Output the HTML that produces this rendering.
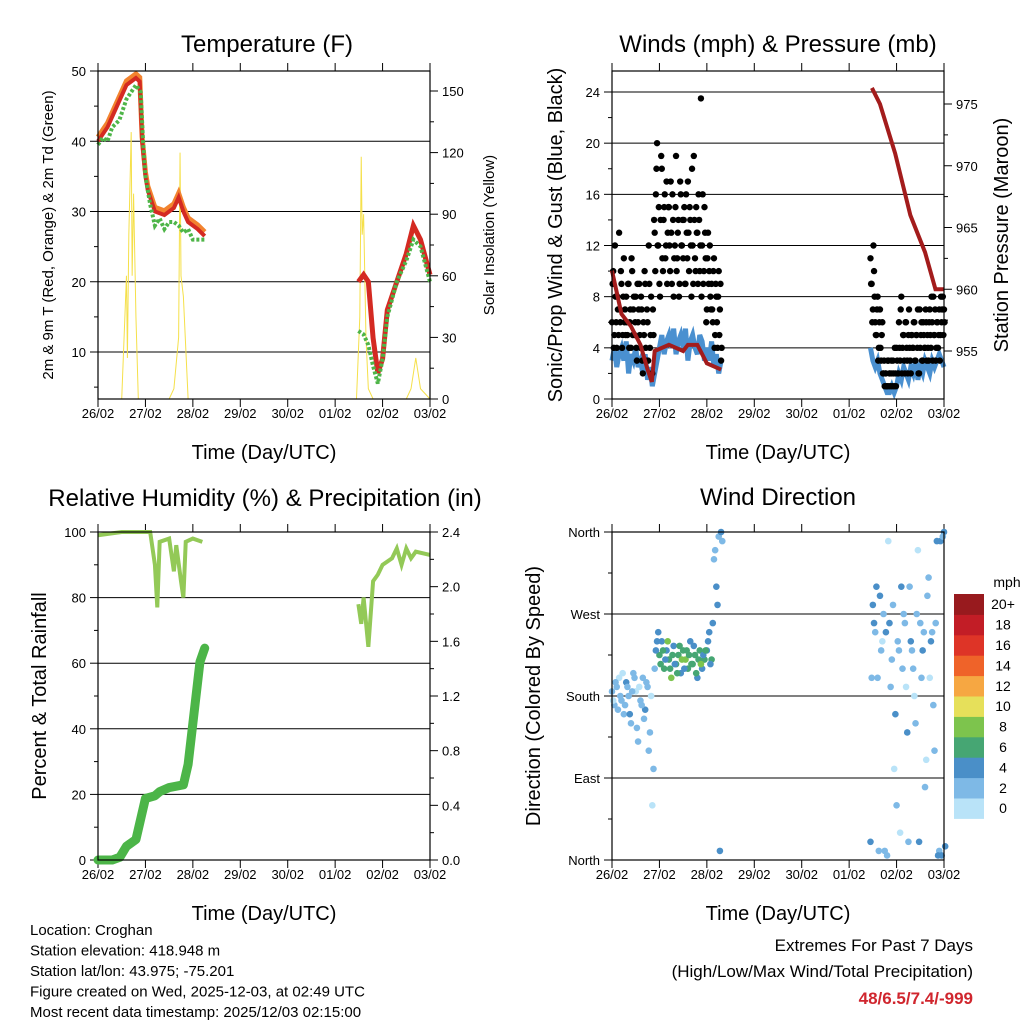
<!DOCTYPE html>
<html><head><meta charset="utf-8"><style>
html,body{margin:0;padding:0;background:#fff}
svg{display:block;font-family:"Liberation Sans",Arial,sans-serif}
</style></head><body>
<svg id="c" width="1024" height="1024" viewBox="0 0 1024 1024"></svg>
<script>
// ---------- DATA ----------
const dayLabels = ["26/02","27/02","28/02","29/02","30/02","01/02","02/02","03/02"];
// Temperature (F)
const tempT1 = [0,0.2,0.4,0.6,0.8,0.88,0.93,1.0,1.05,1.2,1.4,1.6,1.7,1.8,1.9,2.1,2.25];
const tempV1 = [40,42,45,48,49,48.5,40,35,33,30,29.5,30.5,32,30,28.5,27.5,26.5];
const tempT2 = [5.49,5.6,5.7,5.8,5.9,6.0,6.1,6.3,6.5,6.65,6.8,7.0];
const tempV2 = [20,21,20,12,7,9,16,20,24,28,26,21];
const dewT1 = [0,0.1,0.2,0.3,0.45,0.6,0.8,0.9,0.95,1.0,1.1,1.2,1.3,1.4,1.5,1.6,1.7,1.8,1.9,2.0,2.25];
const dewV1 = [39.5,40.5,40,42,43,46,48,47,40,35,31,28,29,27.5,28.5,28.5,28,27,27.5,26,26];
const dewT2 = [5.49,5.6,5.7,5.8,5.9,6.0,6.1,6.3,6.5,6.65,6.8,7.0];
const dewV2 = [13,12.5,11,8,5.5,9,15,20,23,26,25,20];
const solT = [0,0.5,0.55,0.6,0.62,0.65,0.7,0.72,0.75,0.8,0.85,1.0,1.5,1.6,1.7,1.73,1.75,1.8,1.9,2.3];
const solV = [0,0,30,60,20,80,130,60,100,40,0,0,0,5,30,120,60,50,0,0];
const solT2 = [5.45,5.52,5.55,5.57,5.6,5.65,5.7,5.8,6.5,6.6,6.7,6.8,7.0];
const solV2 = [0,40,118,80,90,30,5,0,0,5,20,5,0];
// Winds
const gust1 = [6,10,5,8,4,7,13,6,9,5,11,7, 8,5,9,6,4,10,7,5,8,3,6,9, 4,7,2,5,9,3,6,12,4,8,2,5,
  13,16,20,12,9,14,18,10,15,11,17,13, 15,10,13,16,8,12,19,11,14,9,16,12, 11,15,9,13,17,10,14,8,12,19,11,15,
  13,16,10,23.5,12,9,15,11,7,13,10,8, 9,6,11,5,8,4,10,7,3];
const gust1b = [9,4,12,6,8,5,7,10,4,8,6,5, 6,9,4,7,11,5,8,6,4,9,7,5, 8,3,6,10,4,7,3,9,5,2,7,14,
  10,18,12,15,8,19,11,14,16,12,9,15, 12,17,9,14,11,15,10,13,8,17,12,14, 14,9,16,11,13,15,12,18,9,14,10,13,
  9,14,12,8,16,10,13,6,11,9,12,7, 7,10,4,9,6,8,5,9,4];
const gust2 = [11,9,7,10,6,5,8,4,7,3,6,2, 1,2,1,3,2,1,2,3,1,2,4,2, 6,3,8,4,5,2,6,3,5,4,2,5,
  4,6,3,5,7,2,4,6,3,5,4,6, 5,3,7,4,6,8,5,3,6,4,7,5, 6,8,7];
const gust2b = [9,6,12,8,5,7,3,6,4,5,2,3, 2,1,3,1,2,3,1,2,4,1,3,2, 4,7,2,5,3,6,4,2,7,3,5,4,
  6,3,5,4,2,7,5,3,6,4,7,3, 4,6,5,8,3,5,7,4,6,5,3,8, 7,5,6];
const sonic1 = [3,4,2.5,3.5,4,3,4.5,2,3.5,3,4,2.5,3,2,3.5,1.5,2.5,1,2,3,
  4,5,3.5,4.5,5,4,5.5,3.5,4.5,5,4,5.5,3,4.5,5,4,3.5,5,4.5,3, 4,3,4.5,2.5,3.5,2,3];
const sonic2 = [4,3,2.5,3,2,1.5,1,0.5,0.5,1,0.5,1,2,1.5,2.5,2,1.5,2.5,2,3,1.5,2.5,2,3,2.5,2,3,2.5,3,3.5,3,2.5];
const presT1 = [0,0.2,0.4,0.6,0.75,0.84,0.9,1.2,1.5,1.6,1.8,2.0,2.3];
const presV1 = [961.5,958,957,955.5,953.5,952.5,955,955.5,955,955.5,955.5,954,953.5];
const presT2 = [5.48,5.65,5.97,6.29,6.6,6.82,7.0];
const presV2 = [976.3,975,971,966,963,960,960];
// RH & precip
const rhT1 = [0,0.5,1.0,1.1,1.2,1.25,1.3,1.5,1.6,1.65,1.75,1.8,1.85,2.0,2.2];
const rhV1 = [99,100,100,100,90,77,97,98,88,96,85,80,97,98,97];
const rhT2 = [5.49,5.55,5.6,5.7,5.8,5.9,6.0,6.2,6.3,6.4,6.5,6.6,6.7,7.0];
const rhV2 = [78,72,80,65,85,87,90,92,95,90,95,92,94,93];
const prT = [0,0.3,0.46,0.6,0.8,0.9,1.0,1.2,1.3,1.5,1.8,1.9,2.0,2.1,2.15,2.25];
const prV = [0,0,0.02,0.1,0.15,0.3,0.45,0.47,0.5,0.53,0.55,0.7,1.0,1.3,1.45,1.55];
// Wind direction
const dir1 = [185,170,190,200,175,160,195,180,150,205,185,130,175,200,165,190,140,60,210,240,
  225,240,210,230,220,200,235,215,225,205,230,220,210,240,215,225,200,230,210,220, 230,250,220,330,300,355,360];
const spd1 = [1,2,1,0,2,1,3,2,1,2,0,1,2,1,3,2,1,0,2,3, 5,4,6,3,5,7,4,6,5,3,6,7,5,4,6,5,4,6,3,5, 4,3,5,2,3,2,4];
const dir1b = [175,195,165,180,205,170,190,160,185,200,145,190,170,155,195,120,180,100,230,250,
  215,230,220,240,210,225,215,205,235,220,210,230,225,215,235,205,220,215,225,230, 240,215,260,340,280,10,350];
const spd1b = [0,1,2,1,0,2,1,3,1,2,1,0,2,1,2,1,0,1,3,4, 6,5,4,7,5,6,4,5,6,7,4,5,6,5,4,6,5,7,4,5, 3,4,3,2,3,3,2];
const dir2 = [20,280,250,200,290,240,10,5,260,220,100,60,230,300,270,190,20,240,210,150,340,260,230,80,290,200,250,120,350,10,5,360];
const spd2 = [4,3,2,1,3,0,1,2,3,1,0,1,2,3,1,0,2,4,2,1,0,2,3,1,2,0,2,1,3,2,4,3];
const dir2b = [200,260,300,10,230,270,250,350,190,280,160,240,30,210,260,140,300,230,180,270,20,200,250,110,310,240,170,260,5,350,355,15];
const spd2b = [2,4,3,1,2,1,3,0,2,1,3,2,0,1,2,3,1,2,0,1,3,2,1,0,2,3,1,2,4,3,2,3];
const cbLabels = ["0","2","4","6","8","10","12","14","16","18","20+"];
const cbColors = ["#b9e3f8","#7eb9e6","#4a8fc8","#46a673","#7dc44d","#e6e05a","#f6a742","#ef6329","#de3427","#c21d26","#981a1e"];

// ---------- HELPERS ----------
const NS="http://www.w3.org/2000/svg";
const svg=document.getElementById('c');
function el(tag,attrs,parent){const e=document.createElementNS(NS,tag);for(const k in attrs)e.setAttribute(k,attrs[k]);(parent||svg).appendChild(e);return e;}
function txt(s,x,y,size,anchor,parent,extra){const t=el('text',Object.assign({x:x,y:y,'font-size':size,'text-anchor':anchor||'middle',fill:'#000'},extra||{}),parent);t.textContent=s;return t;}
function lin(d0,d1,p0,p1){return v=>p0+(v-d0)/(d1-d0)*(p1-p0);}

function panel(name,L,T,R,B,yTicks,ySc,yLabels,minorY){
  const g=el('g',{});
  
  
  const xs=lin(0,7,L,R);
  yTicks.forEach(v=>{const y=ySc(v);el('line',{x1:L,x2:R,y1:y,y2:y,stroke:'#000','stroke-width':1},g);});
  yTicks.forEach((v,i)=>{const y=ySc(v);el('line',{x1:L-8,x2:L,y1:y,y2:y,stroke:'#000'},g);
    const t=txt(yLabels[i],L-12,y+5,13,'end',g);});
  (minorY||[]).forEach(v=>{const y=ySc(v);el('line',{x1:L-4,x2:L,y1:y,y2:y,stroke:'#000'},g);});
  dayLabels.forEach((s,i)=>{const x=xs(i);
    el('line',{x1:x,x2:x,y1:B,y2:B+8,stroke:'#000'},g);
    el('line',{x1:x,x2:x,y1:T-8,y2:T,stroke:'#000'},g);
    const t=txt(s,x,B+19,13,'middle',g);});
  const xt=txt('Time (Day/UTC)',(L+R)/2,B+60,20,'middle',g);
  
  
  return {g,xs};
}
function frame(g,L,T,R,B){el('rect',{x:L,y:T,width:R-L,height:B-T,fill:'none',stroke:'#000','stroke-width':1.2},g);}
function poly(g,xs,ys,T,V,attrs,name){const p=el('polyline',Object.assign({fill:'none',points:T.map((t,i)=>xs(t)+','+ys(V[i])).join(' ')},attrs),g);
  return p;}
function rightAxis(g,R,ticks,sc,labels,minor){
  ticks.forEach((v,i)=>{const y=sc(v);el('line',{x1:R,x2:R+8,y1:y,y2:y,stroke:'#000'},g);
    const t=txt(labels[i],R+12,y+5,13,'start',g);});
  (minor||[]).forEach(v=>{const y=sc(v);el('line',{x1:R,x2:R+4,y1:y,y2:y,stroke:'#000'},g);});
}
function vtitle(g,s,x,y,size,name){const t=txt(s,x,y,size,'middle',g,{transform:'rotate(-90 '+x+' '+y+')'});}

// ---------- PANEL 1: Temperature ----------
(function(){
  const L=98,T=71,R=430,B=399;
  const ys=lin(10,50,352,71);
  const {g,xs}=panel('temperature-panel',L,T,R,B,[10,20,30,40,50],ys,["10","20","30","40","50"],[5,15,25,35,45]);
  const ss=lin(0,150,399,91);
  poly(g,xs,ss,solT,solV,{stroke:'#f5e04a','stroke-width':1},'solar-insolation-line');
  poly(g,xs,ss,solT2,solV2,{stroke:'#f5e04a','stroke-width':1},'solar-insolation-line-2');
  poly(g,xs,ys,tempT1,tempV1.map(v=>v+0.6),{stroke:'#f2832f','stroke-width':5},'temp-9m-line');
  poly(g,xs,ys,tempT1,tempV1,{stroke:'#d42a22','stroke-width':4},'temp-2m-line');
  poly(g,xs,ys,tempT2,tempV2,{stroke:'#d42a22','stroke-width':5},'temp-2m-line-2');
  poly(g,xs,ys,dewT1,dewV1,{stroke:'#4eb548','stroke-width':4,'stroke-dasharray':'3 2'},'dewpoint-line');
  poly(g,xs,ys,dewT2,dewV2,{stroke:'#4eb548','stroke-width':4,'stroke-dasharray':'3 2'},'dewpoint-line-2');
  frame(g,L,T,R,B);
  rightAxis(g,R,[0,30,60,90,120,150],ss,["0","30","60","90","120","150"],[15,45,75,105,135]);
  const tt=txt('Temperature (F)',267,52,24,'middle',g);
  vtitle(g,'2m & 9m T (Red, Orange) & 2m Td (Green)',53,235,15,'y-axis-title');
  vtitle(g,'Solar Insolation (Yellow)',494,235,15,'right-axis-title');
})();

// ---------- PANEL 2: Winds ----------
(function(){
  const L=612,T=71,R=944,B=399;
  const ys=lin(0,24,399,92);
  const {g,xs}=panel('winds-panel',L,T,R,B,[0,4,8,12,16,20,24],ys,["0","4","8","12","16","20","24"],[2,6,10,14,18,22]);
  poly(g,xs,ys,sonic1.map((v,i)=>i*0.05),sonic1,{stroke:'#4a90d0','stroke-width':5},'sonic-wind-line');
  poly(g,xs,ys,sonic2.map((v,i)=>5.45+i*0.05),sonic2,{stroke:'#4a90d0','stroke-width':5},'sonic-wind-line-2');
  function dots(arr,t0,step){arr.forEach((v,i)=>{const c=el('circle',{cx:xs(t0+i*step),cy:ys(v),r:3.2,fill:'#000'},g);
    });}
  dots(gust1,0,0.025);dots(gust1b,0.0125,0.025);
  dots(gust2,5.45,0.025);dots(gust2b,5.4625,0.025);
  const ps=lin(955,975,351,104);
  poly(g,xs,ps,presT1,presV1,{stroke:'#a31c1c','stroke-width':4},'pressure-line');
  poly(g,xs,ps,presT2,presV2,{stroke:'#a31c1c','stroke-width':4},'pressure-line-2');
  frame(g,L,T,R,B);
  rightAxis(g,R,[955,960,965,970,975],ps,["955","960","965","970","975"],[957.5,962.5,967.5,972.5]);
  const tt=txt('Winds (mph) & Pressure (mb)',778,52,24,'middle',g);
  vtitle(g,'Sonic/Prop Wind & Gust (Blue, Black)',562,235,20,'y-axis-title');
  vtitle(g,'Station Pressure (Maroon)',1008,235,20,'right-axis-title');
})();

// ---------- PANEL 3: RH & precip ----------
(function(){
  const L=98,T=532,R=430,B=860;
  const ys=lin(0,100,860,532);
  const {g,xs}=panel('humidity-panel',L,T,R,B,[0,20,40,60,80,100],ys,["0","20","40","60","80","100"],[10,30,50,70,90]);
  const ps=lin(0,2.4,860,532);
  poly(g,xs,ys,rhT1,rhV1,{stroke:'#93c957','stroke-width':4},'rh-line');
  poly(g,xs,ys,rhT2,rhV2,{stroke:'#93c957','stroke-width':4},'rh-line-2');
  poly(g,xs,ps,prT,prV,{stroke:'#4cb548','stroke-width':9,'stroke-linecap':'round','stroke-linejoin':'round'},'precip-line');
  frame(g,L,T,R,B);
  rightAxis(g,R,[0,0.4,0.8,1.2,1.6,2.0,2.4],ps,["0.0","0.4","0.8","1.2","1.6","2.0","2.4"],[0.2,0.6,1.0,1.4,1.8,2.2]);
  const tt=txt('Relative Humidity (%) & Precipitation (in)',265,506,24,'middle',g);
  vtitle(g,'Percent & Total Rainfall',46,696,20,'y-axis-title');
})();

// ---------- PANEL 4: Wind direction ----------
(function(){
  const L=612,T=532,R=944,B=860;
  const ys=lin(0,360,860,532);
  const {g,xs}=panel('wind-direction-panel',L,T,R,B,[0,90,180,270,360],ys,["North","East","South","West","North"],[45,135,225,315]);
  function col(s){let i=Math.min(10,Math.max(0,Math.round(s/2)));return cbColors[i];}
  function dots(D,S,t0){D.forEach((v,i)=>{const c=el('circle',{cx:xs(t0+i*0.05),cy:ys(v),r:3.3,fill:col(S[i])},g);
    });}
  dots(dir1,spd1,0);dots(dir1b,spd1b,0.025);
  dots(dir2,spd2,5.45);dots(dir2b,spd2b,5.475);
  frame(g,L,T,R,B);
  const tt=txt('Wind Direction',778,505,24,'middle',g);
  vtitle(g,'Direction (Colored By Speed)',540,696,20,'y-axis-title');
  const cb=el('g',{},g);
  
  
  const cbTop=594,cbH=20.4;
  cbColors.forEach((c,i)=>{const y=cbTop+(10-i)*cbH;
    const r=el('rect',{x:954,y:y,width:30,height:cbH+0.5,fill:c},cb);
    
    txt(cbLabels[i],1003,y+cbH/2+5,14,'middle',cb);});
  txt('mph',1007,587,14,'middle',cb);
})();

// ---------- Footer text ----------
const info=["Location: Croghan","Station elevation: 418.948 m","Station lat/lon: 43.975; -75.201","Figure created on Wed, 2025-12-03, at 02:49 UTC","Most recent data timestamp: 2025/12/03 02:15:00"];
info.forEach((s,i)=>{const t=txt(s,30,935+i*20.5,15,'start');});
let t1=txt('Extremes For Past 7 Days',973,951,17,'end');
let t2=txt('(High/Low/Max Wind/Total Precipitation)',973,977,17,'end');
let t3=txt('48/6.5/7.4/-999',973,1004,17,'end',null,{fill:'#d0262e','font-weight':'bold'});
</script>
</body></html>
